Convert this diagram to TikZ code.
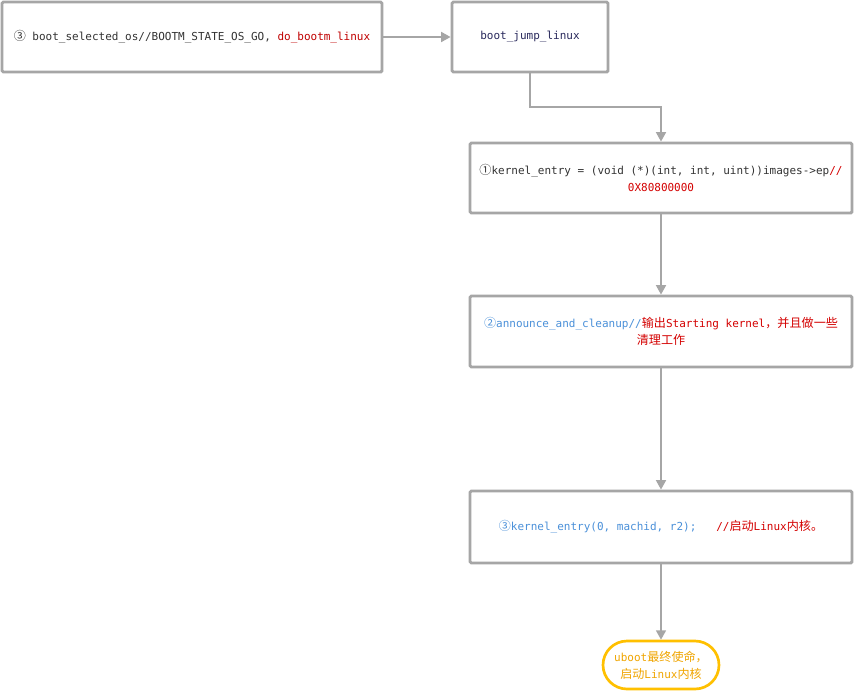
\documentclass[tikz,border=0pt]{standalone}
\usepackage{fontspec}
\setmainfont{DejaVu Sans Mono}
\newfontfamily\cjk[Scale=1.1]{Noto Sans CJK SC}
\usetikzlibrary{arrows.meta}
\newcommand{\zh}[1]{{\cjk #1}}
\definecolor{boxgray}{HTML}{A6A6A6}
\definecolor{txtdark}{HTML}{333333}
\definecolor{txtblue}{HTML}{4A90D9}
\definecolor{txtred}{HTML}{D40000}
\definecolor{darkred}{HTML}{C00000}
\definecolor{ora}{HTML}{FFC000}
\definecolor{oratxt}{HTML}{F0A500}
\begin{document}
\begin{tikzpicture}[x=0.75pt,y=-0.75pt,
  font=\fontsize{8.25pt}{12.5pt}\selectfont,
  box/.style={draw=boxgray,line width=2.2pt,rounded corners=1pt,fill=white,align=center,inner sep=0pt},
  conn/.style={draw=boxgray,line width=1.1pt,-{Triangle[length=7pt,width=7.5pt]}},
  oval/.style={draw=ora,line width=2pt,rounded corners=18pt,align=center,inner sep=0pt,text=oratxt}]
\useasboundingbox[fill=white] (0,0) rectangle (860,690);
\node[box,minimum width=285pt,minimum height=52.5pt,text=txtdark] (A) at (192,37)
  {\zh{③} boot\_selected\_os//BOOTM\_STATE\_OS\_GO, \textcolor{darkred}{do\_bootm\_linux}};
\node[box,minimum width=117pt,minimum height=52.5pt,text=txtdark!80!blue] (B) at (530,37) {boot\_jump\_linux};
\node[box,minimum width=286.5pt,minimum height=52.5pt,text=txtdark] (C) at (661,178)
  {\zh{①}kernel\_entry = (void (*)(int, int, uint))images->ep\textcolor{txtred}{//}\\
   \textcolor{txtred}{0X80800000}};
\node[box,minimum width=286.5pt,minimum height=53.25pt] (D) at (661,331.5)
  {\textcolor{txtblue}{\zh{②}announce\_and\_cleanup//}\textcolor{txtred}{\zh{输出}Starting kernel\zh{，并且做一些}}\\
   \textcolor{txtred}{\zh{清理工作}}};
\node[box,minimum width=286.5pt,minimum height=54pt] (E) at (661,527)
  {\textcolor{txtblue}{\zh{③}kernel\_entry(0, machid, r2);}\ \ \ \textcolor{txtred}{//\zh{启动}Linux\zh{内核。}}};
\node[oval,minimum width=87pt,minimum height=36pt] (F) at (661,665)
  {uboot\zh{最终使命，}\\ \zh{启动}Linux\zh{内核}};
\draw[conn] (A) -- (B);
\draw[conn] (B.south) -- (530,107) -| (C.north);
\draw[conn] (C) -- (D);
\draw[conn] (D) -- (E);
\draw[conn] (E) -- (F);
\end{tikzpicture}
\end{document}
